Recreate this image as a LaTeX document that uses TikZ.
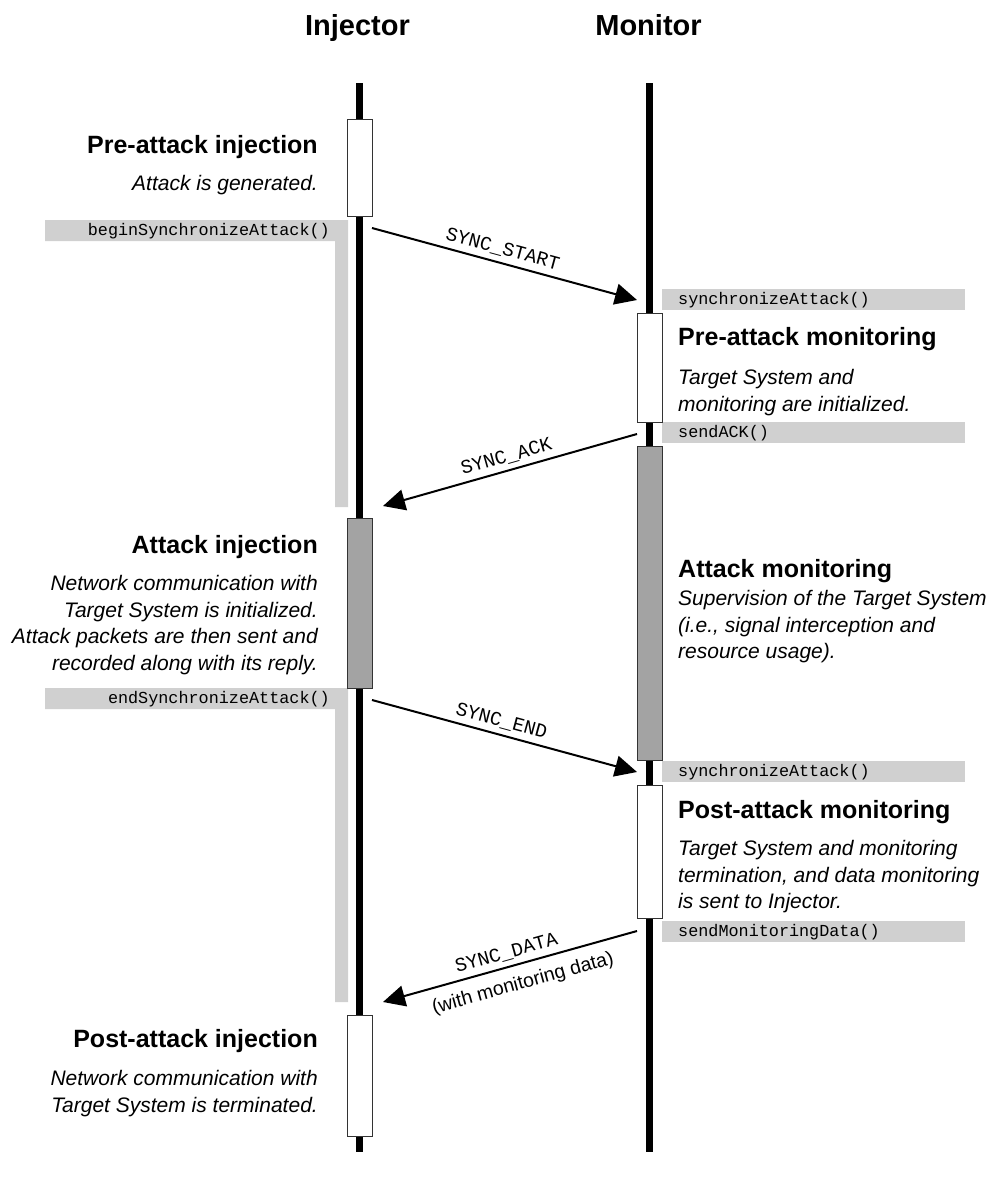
\documentclass[tikz,border=0pt]{standalone}
\usepackage{fontspec}
\setmainfont{Liberation Sans}
\setmonofont{Liberation Mono}
\usetikzlibrary{arrows.meta}
\definecolor{bargray}{HTML}{D0D0D0}
\definecolor{actgray}{HTML}{A3A3A3}
\begin{document}
\begin{tikzpicture}[x=1pt,y=-1pt,
  lifeline/.style={line width=6.5pt,black},
  actbox/.style={draw=black!80,line width=1pt,fill=white,minimum width=25pt,inner sep=0pt},
  busybox/.style={actbox,fill=actgray},
  callbar/.style={fill=bargray,draw=none},
  calltext/.style={font=\fontsize{16.8}{20}\ttfamily,inner sep=0pt},
  header/.style={font=\fontsize{29}{34}\bfseries,inner sep=0pt,anchor=base},
  phase/.style={font=\fontsize{25}{30}\bfseries,inner sep=0pt},
  note/.style={font=\fontsize{21}{26.7}\itshape,inner sep=0pt},
  msg/.style={line width=2pt,-{Triangle[length=22pt,width=21pt]}},
  msgtext/.style={font=\fontsize{19.5}{22}\ttfamily,inner sep=0pt,sloped}]
\useasboundingbox (0,0) rectangle (997,1181);

% column headers
\node[header] (hinj) at (357.5,35) {Injector};
\node[header] (hmon) at (648.5,35) {Monitor};

% lifelines
\coordinate (injtop) at (359.5,83);
\coordinate (injbot) at (359.5,1152);
\coordinate (montop) at (649.5,83);
\coordinate (monbot) at (649.5,1152);
\draw[lifeline] (injtop) -- (injbot);
\draw[lifeline] (montop) -- (monbot);

% call bars on the injector side (L-shaped)
\fill[callbar] (45,220) -- (348,220) -- (348,507) -- (335,507) -- (335,241) -- (45,241) -- cycle;
\fill[callbar] (45,688) -- (348,688) -- (348,1002) -- (335,1002) -- (335,709) -- (45,709) -- cycle;
\node[calltext,anchor=base east] (cbegin) at (330,235) {beginSynchronizeAttack()};
\node[calltext,anchor=base east] (cend) at (330,703) {endSynchronizeAttack()};

% call bars on the monitor side
\fill[callbar] (662,289) rectangle (965,310);
\fill[callbar] (662,422) rectangle (965,443);
\fill[callbar] (662,761) rectangle (965,782);
\fill[callbar] (662,921) rectangle (965,942);
\node[calltext,anchor=base west] (csync1) at (678,304) {synchronizeAttack()};
\node[calltext,anchor=base west] (cack) at (678,437) {sendACK()};
\node[calltext,anchor=base west] (csync2) at (678,776) {synchronizeAttack()};
\node[calltext,anchor=base west] (cdata) at (678,936) {sendMonitoringData()};

% activation boxes
\node[actbox,minimum height=97pt] (inj1) at (359.5,167.5) {};
\node[busybox,minimum height=170pt] (inj2) at (359.5,603) {};
\node[actbox,minimum height=121pt] (inj3) at (359.5,1075.5) {};
\node[actbox,minimum height=109pt] (mon1) at (649.5,367.5) {};
\node[busybox,minimum height=314pt] (mon2) at (649.5,603) {};
\node[actbox,minimum height=133pt] (mon3) at (649.5,851.5) {};

% phase descriptions, injector side
\node[phase,anchor=base east] (t1) at (318,153) {Pre-attack injection};
\node[note,anchor=north east,align=right] (d1) at (318,175) {Attack is generated.};
\node[phase,anchor=base east] (t2) at (318,553) {Attack injection};
\node[note,anchor=north east,align=right] (d2) at (318,575)
  {Network communication with\\Target System is initialized.\\Attack packets are then sent and\\recorded along with its reply.};
\node[phase,anchor=base east] (t3) at (318,1047) {Post-attack injection};
\node[note,anchor=north east,align=right] (d3) at (318,1070)
  {Network communication with\\Target System is terminated.};

% phase descriptions, monitor side
\node[phase,anchor=base west] (t4) at (678,345) {Pre-attack monitoring};
\node[note,anchor=north west,align=left] (d4) at (678,369)
  {Target System and\\monitoring are initialized.};
\node[phase,anchor=base west] (t5) at (678,577) {Attack monitoring};
\node[note,anchor=north west,align=left] (d5) at (678,590)
  {Supervision of the Target System\\(i.e., signal interception and\\resource usage).};
\node[phase,anchor=base west] (t6) at (678,818) {Post-attack monitoring};
\node[note,anchor=north west,align=left] (d6) at (678,840)
  {Target System and monitoring\\termination, and data monitoring\\is sent to Injector.};

% message end points
\coordinate (ssA) at (372,228);  \coordinate (ssB) at (637,300);
\coordinate (saA) at (637,434);  \coordinate (saB) at (383,506);
\coordinate (seA) at (372,700);  \coordinate (seB) at (637,772);
\coordinate (sdA) at (637,931);  \coordinate (sdB) at (383,1002);

% messages
\draw[msg] (ssA) -- node[msgtext,pos=0.48,above=5pt] (lss) {SYNC\_START} (ssB);
\draw[msg] (saA) -- node[msgtext,pos=0.5,above=5pt] (lsa) {SYNC\_ACK} (saB);
\draw[msg] (seA) -- node[msgtext,pos=0.475,above=5pt] (lse) {SYNC\_END} (seB);
\draw[msg] (sdA) -- node[msgtext,pos=0.5,above=5pt] (lsd) {SYNC\_DATA}
  node[sloped,pos=0.47,below=10pt,inner sep=0pt,font=\fontsize{19.5}{22}\selectfont] (lsd2) {(with monitoring data)} (sdB);
\end{tikzpicture}
\end{document}
